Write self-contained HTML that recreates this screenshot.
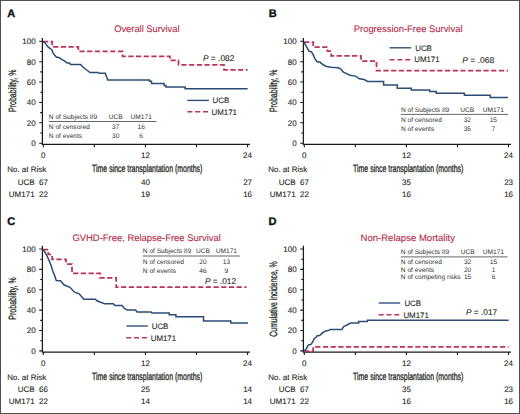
<!DOCTYPE html><html><head><meta charset="utf-8"><style>html,body{margin:0;padding:0;background:#fff;}svg{display:block;}text{stroke-width:0.1px;text-rendering:geometricPrecision;}</style></head><body>
<svg width="520" height="414" viewBox="0 0 520 414" font-family='"Liberation Sans", sans-serif'>
<rect x="0" y="0" width="520" height="414" fill="#fff"/>
<path d="M0,0 H520 V414 H0 Z M1,1 V413 H519 V1 Z" fill="#505050" fill-rule="evenodd"/>
<text x="7.3" y="17" font-size="11" font-weight="bold" fill="#111" stroke="#111" style="stroke-width:0.35px">A</text>
<text x="268.7" y="17.4" font-size="11" font-weight="bold" fill="#111" stroke="#111" style="stroke-width:0.35px">B</text>
<text x="7.2" y="225.4" font-size="11" font-weight="bold" fill="#111" stroke="#111" style="stroke-width:0.35px">C</text>
<text x="268.4" y="225.4" font-size="11" font-weight="bold" fill="#111" stroke="#111" style="stroke-width:0.35px">D</text>
<text x="114.2" y="32.4" font-size="9.5" fill="#b31d45" stroke="#b31d45" style="stroke-width:0.08px" textLength="65.30" lengthAdjust="spacingAndGlyphs">Overall Survival</text>
<text x="353.75" y="32.2" font-size="9.5" fill="#b31d45" stroke="#b31d45" style="stroke-width:0.08px" textLength="108.75" lengthAdjust="spacingAndGlyphs">Progression-Free Survival</text>
<text x="72.4" y="240.6" font-size="9.5" fill="#b31d45" stroke="#b31d45" style="stroke-width:0.08px" textLength="148.40" lengthAdjust="spacingAndGlyphs">GVHD-Free, Relapse-Free Survival</text>
<text x="360.5" y="240.5" font-size="9.5" fill="#b31d45" stroke="#b31d45" style="stroke-width:0.08px" textLength="94.50" lengthAdjust="spacingAndGlyphs">Non-Relapse Mortality</text>
<g transform="translate(0,0)">
<path d="M42.4,38 V144.9 M41.8,144.35 H250" stroke="#1a1a1a" stroke-width="1.25" fill="none"/>
<path d="M39.2,143.20 H42.4 M40.2,133.01 H42.4 M39.2,122.82 H42.4 M40.2,112.63 H42.4 M39.2,102.44 H42.4 M40.2,92.25 H42.4 M39.2,82.06 H42.4 M40.2,71.87 H42.4 M39.2,61.68 H42.4 M40.2,51.49 H42.4 M39.2,41.30 H42.4 M43.30,144.3 V147.3 M94.36,144.3 V147.3 M145.42,144.3 V147.3 M196.48,144.3 V147.3 M247.54,144.3 V147.3" stroke="#1a1a1a" stroke-width="1.1" fill="none"/>
<text x="35.70" y="146.05" font-size="8" text-anchor="end" fill="#231f20" stroke="#231f20" >0</text>
<text x="35.70" y="125.67" font-size="8" text-anchor="end" fill="#231f20" stroke="#231f20" >20</text>
<text x="35.70" y="105.29" font-size="8" text-anchor="end" fill="#231f20" stroke="#231f20" >40</text>
<text x="35.70" y="84.91" font-size="8" text-anchor="end" fill="#231f20" stroke="#231f20" >60</text>
<text x="35.70" y="64.53" font-size="8" text-anchor="end" fill="#231f20" stroke="#231f20" >80</text>
<text x="35.70" y="44.15" font-size="8" text-anchor="end" fill="#231f20" stroke="#231f20" >100</text>
<text x="43.30" y="158.00" font-size="8" text-anchor="middle" fill="#231f20" stroke="#231f20" >0</text>
<text x="145.42" y="158.00" font-size="8" text-anchor="middle" fill="#231f20" stroke="#231f20" >12</text>
<text x="247.54" y="158.00" font-size="8" text-anchor="middle" fill="#231f20" stroke="#231f20" >24</text>
<text x="92" y="172" font-size="10.6" fill="#231f20" stroke="#231f20" style="stroke-width:0.3px" textLength="110.4" lengthAdjust="spacingAndGlyphs">Time since transplantation (months)</text>
<text transform="translate(15.5,112.00) rotate(-90)" x="0" y="0" font-size="10.6" fill="#231f20" stroke="#231f20" style="stroke-width:0.3px" textLength="42.4" lengthAdjust="spacingAndGlyphs">Probability, %</text>
</g>
<g transform="translate(261.0,0)">
<path d="M42.4,38 V144.9 M41.8,144.35 H250" stroke="#1a1a1a" stroke-width="1.25" fill="none"/>
<path d="M39.2,143.20 H42.4 M40.2,133.01 H42.4 M39.2,122.82 H42.4 M40.2,112.63 H42.4 M39.2,102.44 H42.4 M40.2,92.25 H42.4 M39.2,82.06 H42.4 M40.2,71.87 H42.4 M39.2,61.68 H42.4 M40.2,51.49 H42.4 M39.2,41.30 H42.4 M43.30,144.3 V147.3 M94.36,144.3 V147.3 M145.42,144.3 V147.3 M196.48,144.3 V147.3 M247.54,144.3 V147.3" stroke="#1a1a1a" stroke-width="1.1" fill="none"/>
<text x="35.70" y="146.05" font-size="8" text-anchor="end" fill="#231f20" stroke="#231f20" >0</text>
<text x="35.70" y="125.67" font-size="8" text-anchor="end" fill="#231f20" stroke="#231f20" >20</text>
<text x="35.70" y="105.29" font-size="8" text-anchor="end" fill="#231f20" stroke="#231f20" >40</text>
<text x="35.70" y="84.91" font-size="8" text-anchor="end" fill="#231f20" stroke="#231f20" >60</text>
<text x="35.70" y="64.53" font-size="8" text-anchor="end" fill="#231f20" stroke="#231f20" >80</text>
<text x="35.70" y="44.15" font-size="8" text-anchor="end" fill="#231f20" stroke="#231f20" >100</text>
<text x="43.30" y="158.00" font-size="8" text-anchor="middle" fill="#231f20" stroke="#231f20" >0</text>
<text x="145.42" y="158.00" font-size="8" text-anchor="middle" fill="#231f20" stroke="#231f20" >12</text>
<text x="247.54" y="158.00" font-size="8" text-anchor="middle" fill="#231f20" stroke="#231f20" >24</text>
<text x="92" y="172" font-size="10.6" fill="#231f20" stroke="#231f20" style="stroke-width:0.3px" textLength="110.4" lengthAdjust="spacingAndGlyphs">Time since transplantation (months)</text>
<text transform="translate(15.5,112.00) rotate(-90)" x="0" y="0" font-size="10.6" fill="#231f20" stroke="#231f20" style="stroke-width:0.3px" textLength="42.4" lengthAdjust="spacingAndGlyphs">Probability, %</text>
</g>
<g transform="translate(0,207.7)">
<path d="M42.4,38 V144.9 M41.8,144.35 H250" stroke="#1a1a1a" stroke-width="1.25" fill="none"/>
<path d="M39.2,143.20 H42.4 M40.2,133.01 H42.4 M39.2,122.82 H42.4 M40.2,112.63 H42.4 M39.2,102.44 H42.4 M40.2,92.25 H42.4 M39.2,82.06 H42.4 M40.2,71.87 H42.4 M39.2,61.68 H42.4 M40.2,51.49 H42.4 M39.2,41.30 H42.4 M43.30,144.3 V147.3 M94.36,144.3 V147.3 M145.42,144.3 V147.3 M196.48,144.3 V147.3 M247.54,144.3 V147.3" stroke="#1a1a1a" stroke-width="1.1" fill="none"/>
<text x="35.70" y="146.05" font-size="8" text-anchor="end" fill="#231f20" stroke="#231f20" >0</text>
<text x="35.70" y="125.67" font-size="8" text-anchor="end" fill="#231f20" stroke="#231f20" >20</text>
<text x="35.70" y="105.29" font-size="8" text-anchor="end" fill="#231f20" stroke="#231f20" >40</text>
<text x="35.70" y="84.91" font-size="8" text-anchor="end" fill="#231f20" stroke="#231f20" >60</text>
<text x="35.70" y="64.53" font-size="8" text-anchor="end" fill="#231f20" stroke="#231f20" >80</text>
<text x="35.70" y="44.15" font-size="8" text-anchor="end" fill="#231f20" stroke="#231f20" >100</text>
<text x="43.30" y="158.00" font-size="8" text-anchor="middle" fill="#231f20" stroke="#231f20" >0</text>
<text x="145.42" y="158.00" font-size="8" text-anchor="middle" fill="#231f20" stroke="#231f20" >12</text>
<text x="247.54" y="158.00" font-size="8" text-anchor="middle" fill="#231f20" stroke="#231f20" >24</text>
<text x="92" y="172" font-size="10.6" fill="#231f20" stroke="#231f20" style="stroke-width:0.3px" textLength="110.4" lengthAdjust="spacingAndGlyphs">Time since transplantation (months)</text>
<text transform="translate(15.5,112.00) rotate(-90)" x="0" y="0" font-size="10.6" fill="#231f20" stroke="#231f20" style="stroke-width:0.3px" textLength="42.4" lengthAdjust="spacingAndGlyphs">Probability, %</text>
</g>
<g transform="translate(261.0,207.7)">
<path d="M42.4,38 V144.9 M41.8,144.35 H250" stroke="#1a1a1a" stroke-width="1.25" fill="none"/>
<path d="M39.2,143.20 H42.4 M40.2,133.01 H42.4 M39.2,122.82 H42.4 M40.2,112.63 H42.4 M39.2,102.44 H42.4 M40.2,92.25 H42.4 M39.2,82.06 H42.4 M40.2,71.87 H42.4 M39.2,61.68 H42.4 M40.2,51.49 H42.4 M39.2,41.30 H42.4 M43.30,144.3 V147.3 M94.36,144.3 V147.3 M145.42,144.3 V147.3 M196.48,144.3 V147.3 M247.54,144.3 V147.3" stroke="#1a1a1a" stroke-width="1.1" fill="none"/>
<text x="35.70" y="146.05" font-size="8" text-anchor="end" fill="#231f20" stroke="#231f20" >0</text>
<text x="35.70" y="125.67" font-size="8" text-anchor="end" fill="#231f20" stroke="#231f20" >20</text>
<text x="35.70" y="105.29" font-size="8" text-anchor="end" fill="#231f20" stroke="#231f20" >40</text>
<text x="35.70" y="84.91" font-size="8" text-anchor="end" fill="#231f20" stroke="#231f20" >60</text>
<text x="35.70" y="64.53" font-size="8" text-anchor="end" fill="#231f20" stroke="#231f20" >80</text>
<text x="35.70" y="44.15" font-size="8" text-anchor="end" fill="#231f20" stroke="#231f20" >100</text>
<text x="43.30" y="158.00" font-size="8" text-anchor="middle" fill="#231f20" stroke="#231f20" >0</text>
<text x="145.42" y="158.00" font-size="8" text-anchor="middle" fill="#231f20" stroke="#231f20" >12</text>
<text x="247.54" y="158.00" font-size="8" text-anchor="middle" fill="#231f20" stroke="#231f20" >24</text>
<text x="92" y="172" font-size="10.6" fill="#231f20" stroke="#231f20" style="stroke-width:0.3px" textLength="110.4" lengthAdjust="spacingAndGlyphs">Time since transplantation (months)</text>
<text transform="translate(15.5,128.95) rotate(-90)" x="0" y="0" font-size="10.6" fill="#231f20" stroke="#231f20" style="stroke-width:0.3px" textLength="75.3" lengthAdjust="spacingAndGlyphs">Cumulative incidence, %</text>
</g>
<g transform="translate(0,0)">
<text x="7.20" y="171.90" font-size="8" text-anchor="start" fill="#231f20" stroke="#231f20" >No. at Risk</text>
<text x="34.60" y="184.60" font-size="8" text-anchor="end" fill="#231f20" stroke="#231f20" >UCB</text>
<text x="34.60" y="196.80" font-size="8" text-anchor="end" fill="#231f20" stroke="#231f20" >UM171</text>
<text x="39.00" y="184.60" font-size="8" text-anchor="start" fill="#231f20" stroke="#231f20" >67</text>
<text x="145.50" y="184.60" font-size="8" text-anchor="middle" fill="#231f20" stroke="#231f20" >40</text>
<text x="247.60" y="184.60" font-size="8" text-anchor="middle" fill="#231f20" stroke="#231f20" >27</text>
<text x="39.00" y="196.80" font-size="8" text-anchor="start" fill="#231f20" stroke="#231f20" >22</text>
<text x="145.50" y="196.80" font-size="8" text-anchor="middle" fill="#231f20" stroke="#231f20" >19</text>
<text x="247.60" y="196.80" font-size="8" text-anchor="middle" fill="#231f20" stroke="#231f20" >16</text>
</g>
<g transform="translate(261.0,0)">
<text x="7.20" y="171.90" font-size="8" text-anchor="start" fill="#231f20" stroke="#231f20" >No. at Risk</text>
<text x="34.60" y="184.60" font-size="8" text-anchor="end" fill="#231f20" stroke="#231f20" >UCB</text>
<text x="34.60" y="196.80" font-size="8" text-anchor="end" fill="#231f20" stroke="#231f20" >UM171</text>
<text x="39.00" y="184.60" font-size="8" text-anchor="start" fill="#231f20" stroke="#231f20" >67</text>
<text x="145.50" y="184.60" font-size="8" text-anchor="middle" fill="#231f20" stroke="#231f20" >35</text>
<text x="247.60" y="184.60" font-size="8" text-anchor="middle" fill="#231f20" stroke="#231f20" >23</text>
<text x="39.00" y="196.80" font-size="8" text-anchor="start" fill="#231f20" stroke="#231f20" >22</text>
<text x="145.50" y="196.80" font-size="8" text-anchor="middle" fill="#231f20" stroke="#231f20" >16</text>
<text x="247.60" y="196.80" font-size="8" text-anchor="middle" fill="#231f20" stroke="#231f20" >16</text>
</g>
<g transform="translate(0,207.7)">
<text x="7.20" y="171.90" font-size="8" text-anchor="start" fill="#231f20" stroke="#231f20" >No. at Risk</text>
<text x="34.60" y="184.60" font-size="8" text-anchor="end" fill="#231f20" stroke="#231f20" >UCB</text>
<text x="34.60" y="196.80" font-size="8" text-anchor="end" fill="#231f20" stroke="#231f20" >UM171</text>
<text x="39.00" y="184.60" font-size="8" text-anchor="start" fill="#231f20" stroke="#231f20" >66</text>
<text x="145.50" y="184.60" font-size="8" text-anchor="middle" fill="#231f20" stroke="#231f20" >25</text>
<text x="247.60" y="184.60" font-size="8" text-anchor="middle" fill="#231f20" stroke="#231f20" >14</text>
<text x="39.00" y="196.80" font-size="8" text-anchor="start" fill="#231f20" stroke="#231f20" >22</text>
<text x="145.50" y="196.80" font-size="8" text-anchor="middle" fill="#231f20" stroke="#231f20" >14</text>
<text x="247.60" y="196.80" font-size="8" text-anchor="middle" fill="#231f20" stroke="#231f20" >14</text>
</g>
<g transform="translate(261.0,207.7)">
<text x="7.20" y="171.90" font-size="8" text-anchor="start" fill="#231f20" stroke="#231f20" >No. at Risk</text>
<text x="34.60" y="184.60" font-size="8" text-anchor="end" fill="#231f20" stroke="#231f20" >UCB</text>
<text x="34.60" y="196.80" font-size="8" text-anchor="end" fill="#231f20" stroke="#231f20" >UM171</text>
<text x="39.00" y="184.60" font-size="8" text-anchor="start" fill="#231f20" stroke="#231f20" >67</text>
<text x="145.50" y="184.60" font-size="8" text-anchor="middle" fill="#231f20" stroke="#231f20" >35</text>
<text x="247.60" y="184.60" font-size="8" text-anchor="middle" fill="#231f20" stroke="#231f20" >23</text>
<text x="39.00" y="196.80" font-size="8" text-anchor="start" fill="#231f20" stroke="#231f20" >22</text>
<text x="145.50" y="196.80" font-size="8" text-anchor="middle" fill="#231f20" stroke="#231f20" >16</text>
<text x="247.60" y="196.80" font-size="8" text-anchor="middle" fill="#231f20" stroke="#231f20" >16</text>
</g>
<text x="48.80" y="118.60" font-size="6.6" text-anchor="start" fill="#333333" stroke="#333333" style="stroke:none">N of Subjects 89</text>
<text x="115.70" y="118.60" font-size="6.6" text-anchor="middle" fill="#333333" stroke="#333333" style="stroke:none">UCB</text>
<text x="141.20" y="118.60" font-size="6.6" text-anchor="middle" fill="#333333" stroke="#333333" style="stroke:none">UM171</text>
<path d="M48.8,121.5 H156.5" stroke="#555" stroke-width="0.9" fill="none"/>
<text x="48.80" y="129.30" font-size="6.6" text-anchor="start" fill="#333333" stroke="#333333" style="stroke:none">N of censored</text>
<text x="115.70" y="129.30" font-size="6.6" text-anchor="middle" fill="#333333" stroke="#333333" style="stroke:none">37</text>
<text x="141.20" y="129.30" font-size="6.6" text-anchor="middle" fill="#333333" stroke="#333333" style="stroke:none">16</text>
<text x="48.80" y="137.80" font-size="6.6" text-anchor="start" fill="#333333" stroke="#333333" style="stroke:none">N of events</text>
<text x="115.70" y="137.80" font-size="6.6" text-anchor="middle" fill="#333333" stroke="#333333" style="stroke:none">30</text>
<text x="141.20" y="137.80" font-size="6.6" text-anchor="middle" fill="#333333" stroke="#333333" style="stroke:none">6</text>
<path d="M187.4,100.4 h21.5" stroke="#2b4c74" stroke-width="1.35" fill="none"/>
<path d="M187.4,111.8 h21" stroke="#bc3359" stroke-width="1.55" stroke-dasharray="5 2.8" fill="none"/>
<text x="212.50" y="103.10" font-size="7.9" text-anchor="start" fill="#231f20" stroke="#231f20" >UCB</text>
<text x="211.50" y="114.50" font-size="7.9" text-anchor="start" fill="#231f20" stroke="#231f20" >UM171</text>
<text x="202.9" y="60.7" font-size="8.4" fill="#231f20" stroke="#231f20" textLength="31.5" lengthAdjust="spacingAndGlyphs"><tspan font-style="italic">P</tspan> = .082</text>
<path d="M43,41.6 H52.2 V46.9 H78.3 V51.4 H122.5 V56.4 H170 V60.3 H178.5 V64.9 H224 V69.8 H247.6" stroke="#bc3359" stroke-width="1.75" stroke-dasharray="5.2 2.5" fill="none"/>
<path d="M43.0,41.6 L44.9,42.6 L46.2,44.6 L47.8,46.7 L49.9,48.3 L51.9,50.0 L53.1,52.8 L54.8,55.3 L56.4,57.0 L59.3,57.8 L61.8,59.4 L64.7,61.1 L67.1,63.1 L69.2,63.1 L70.8,64.4 L80.5,64.4 L83.0,67.0 L86.0,69.5 L88.0,71.0 L90.0,72.5 L98.0,72.5 L99.0,73.3 L105.3,73.3 L107.7,80.0 H149.5 V81.2 H151.5 V83.4 H164 V85.5 H166 V87 H185.1 V88.8 H247.6" stroke="#2b4c74" stroke-width="1.5" fill="none" stroke-linejoin="miter"/>
<text x="400.90" y="111.50" font-size="6.6" text-anchor="start" fill="#333333" stroke="#333333" style="stroke:none">N of Subjects 89</text>
<text x="467.30" y="111.50" font-size="6.6" text-anchor="middle" fill="#333333" stroke="#333333" style="stroke:none">UCB</text>
<text x="493.30" y="111.50" font-size="6.6" text-anchor="middle" fill="#333333" stroke="#333333" style="stroke:none">UM171</text>
<path d="M400.9,114.4 H508" stroke="#555" stroke-width="0.9" fill="none"/>
<text x="400.90" y="121.90" font-size="6.6" text-anchor="start" fill="#333333" stroke="#333333" style="stroke:none">N of censored</text>
<text x="467.30" y="121.90" font-size="6.6" text-anchor="middle" fill="#333333" stroke="#333333" style="stroke:none">32</text>
<text x="493.30" y="121.90" font-size="6.6" text-anchor="middle" fill="#333333" stroke="#333333" style="stroke:none">15</text>
<text x="400.90" y="130.90" font-size="6.6" text-anchor="start" fill="#333333" stroke="#333333" style="stroke:none">N of events</text>
<text x="467.30" y="130.90" font-size="6.6" text-anchor="middle" fill="#333333" stroke="#333333" style="stroke:none">35</text>
<text x="493.30" y="130.90" font-size="6.6" text-anchor="middle" fill="#333333" stroke="#333333" style="stroke:none">7</text>
<path d="M389.6,47.8 h21.5" stroke="#2b4c74" stroke-width="1.35" fill="none"/>
<path d="M389.6,59.7 h21" stroke="#bc3359" stroke-width="1.55" stroke-dasharray="5 2.8" fill="none"/>
<text x="415.20" y="50.50" font-size="7.9" text-anchor="start" fill="#231f20" stroke="#231f20" >UCB</text>
<text x="414.20" y="62.40" font-size="7.9" text-anchor="start" fill="#231f20" stroke="#231f20" >UM171</text>
<text x="462.2" y="62.7" font-size="8.4" fill="#231f20" stroke="#231f20" textLength="32" lengthAdjust="spacingAndGlyphs"><tspan font-style="italic">P</tspan> = .068</text>
<path d="M304,42.2 H313.2 V47.1 H327.4 V51.2 H331.2 V55.8 H361 V61 H376.5 V70.6 H508" stroke="#bc3359" stroke-width="1.75" stroke-dasharray="5.2 2.5" fill="none"/>
<path d="M303.9,42.5 L305.8,45.4 L307.8,49.2 L308.9,51.2 L311.6,51.9 L313.5,55.4 L314.7,58.5 L317.0,61.5 L320.1,62.3 L323.5,65.0 L326.6,66.5 L331.2,67.3 L338.2,67.7 L340.5,68.8 L343.4,72.1 L350.1,75.2 L355.5,76.1 L359.5,78.8 L364.2,79.5 L367.6,81.5 H383.6 V84.9 H397.3 V88.3 H411.3 V90.1 H429.7 V91.6 H436.2 V93.3 H464.4 V95.2 H490.2 V97.4 H508" stroke="#2b4c74" stroke-width="1.5" fill="none" stroke-linejoin="miter"/>
<text x="142.80" y="253.10" font-size="6.6" text-anchor="start" fill="#333333" stroke="#333333" style="stroke:none">N of Subjects 89</text>
<text x="203.00" y="253.10" font-size="6.6" text-anchor="middle" fill="#333333" stroke="#333333" style="stroke:none">UCB</text>
<text x="226.40" y="253.10" font-size="6.6" text-anchor="middle" fill="#333333" stroke="#333333" style="stroke:none">UM171</text>
<path d="M142.8,256.0 H239.6" stroke="#555" stroke-width="0.9" fill="none"/>
<text x="142.80" y="263.70" font-size="6.6" text-anchor="start" fill="#333333" stroke="#333333" style="stroke:none">N of censored</text>
<text x="203.00" y="263.70" font-size="6.6" text-anchor="middle" fill="#333333" stroke="#333333" style="stroke:none">20</text>
<text x="226.40" y="263.70" font-size="6.6" text-anchor="middle" fill="#333333" stroke="#333333" style="stroke:none">13</text>
<text x="142.80" y="272.50" font-size="6.6" text-anchor="start" fill="#333333" stroke="#333333" style="stroke:none">N of events</text>
<text x="203.00" y="272.50" font-size="6.6" text-anchor="middle" fill="#333333" stroke="#333333" style="stroke:none">46</text>
<text x="226.40" y="272.50" font-size="6.6" text-anchor="middle" fill="#333333" stroke="#333333" style="stroke:none">9</text>
<path d="M126.3,326 h21.5" stroke="#2b4c74" stroke-width="1.35" fill="none"/>
<path d="M126.3,337.8 h21" stroke="#bc3359" stroke-width="1.55" stroke-dasharray="5 2.8" fill="none"/>
<text x="151.70" y="328.70" font-size="7.9" text-anchor="start" fill="#231f20" stroke="#231f20" >UCB</text>
<text x="150.70" y="340.50" font-size="7.9" text-anchor="start" fill="#231f20" stroke="#231f20" >UM171</text>
<text x="205" y="283.6" font-size="8.4" fill="#231f20" stroke="#231f20" textLength="31.1" lengthAdjust="spacingAndGlyphs"><tspan font-style="italic">P</tspan> = .012</text>
<path d="M43,249.6 H48.2 V254.4 H52.1 V259.3 H66 V264.1 H72 V273.4 H100.2 V277.8 H116.2 V287 H246.5" stroke="#bc3359" stroke-width="1.75" stroke-dasharray="5.2 2.5" fill="none"/>
<path d="M43.0,249.6 L44.2,251.0 L46.0,254.0 L47.9,257.7 L49.7,261.9 L51.5,266.7 L52.7,271.0 L54.5,275.2 L56.3,280.6 L60.4,280.8 L64.2,285.0 L70.0,287.3 L74.2,291.9 L79.2,293.8 L83.8,299.2 L95.4,299.2 L97.0,300.8 L100.0,302.0 L104.6,303.8 L113.3,303.8 L115.0,305.5 L122.0,305.5 L124.0,308.0 L127.0,310.0 L135.7,310.0 L137.0,312.0 L151.0,312.0 L152.0,313.0 H169.2 V314.8 H175.9 V316.8 H203.5 V320.9 H230.8 V322.9 H248" stroke="#2b4c74" stroke-width="1.5" fill="none" stroke-linejoin="miter"/>
<text x="400.80" y="254.00" font-size="6.6" text-anchor="start" fill="#333333" stroke="#333333" style="stroke:none">N of Subjects 89</text>
<text x="467.60" y="254.00" font-size="6.6" text-anchor="middle" fill="#333333" stroke="#333333" style="stroke:none">UCB</text>
<text x="493.50" y="254.00" font-size="6.6" text-anchor="middle" fill="#333333" stroke="#333333" style="stroke:none">UM171</text>
<path d="M400.8,256.9 H507.7" stroke="#555" stroke-width="0.9" fill="none"/>
<text x="400.80" y="264.20" font-size="6.6" text-anchor="start" fill="#333333" stroke="#333333" style="stroke:none">N of censored</text>
<text x="467.60" y="264.20" font-size="6.6" text-anchor="middle" fill="#333333" stroke="#333333" style="stroke:none">32</text>
<text x="493.50" y="264.20" font-size="6.6" text-anchor="middle" fill="#333333" stroke="#333333" style="stroke:none">15</text>
<text x="400.80" y="271.60" font-size="6.6" text-anchor="start" fill="#333333" stroke="#333333" style="stroke:none">N of events</text>
<text x="467.60" y="271.60" font-size="6.6" text-anchor="middle" fill="#333333" stroke="#333333" style="stroke:none">20</text>
<text x="493.50" y="271.60" font-size="6.6" text-anchor="middle" fill="#333333" stroke="#333333" style="stroke:none">1</text>
<text x="400.80" y="278.60" font-size="6.6" text-anchor="start" fill="#333333" stroke="#333333" style="stroke:none">N of competing risks</text>
<text x="467.60" y="278.60" font-size="6.6" text-anchor="middle" fill="#333333" stroke="#333333" style="stroke:none">15</text>
<text x="493.50" y="278.60" font-size="6.6" text-anchor="middle" fill="#333333" stroke="#333333" style="stroke:none">6</text>
<path d="M378.7,303 h21.5" stroke="#2b4c74" stroke-width="1.35" fill="none"/>
<path d="M378.7,314.8 h21" stroke="#bc3359" stroke-width="1.55" stroke-dasharray="5 2.8" fill="none"/>
<text x="404.40" y="305.70" font-size="7.9" text-anchor="start" fill="#231f20" stroke="#231f20" >UCB</text>
<text x="403.40" y="317.50" font-size="7.9" text-anchor="start" fill="#231f20" stroke="#231f20" >UM171</text>
<text x="466" y="314.75" font-size="8.4" fill="#231f20" stroke="#231f20" textLength="31.2" lengthAdjust="spacingAndGlyphs"><tspan font-style="italic">P</tspan> = .017</text>
<path d="M304,351 H313.2 V346.8 H508.5" stroke="#bc3359" stroke-width="1.75" stroke-dasharray="5.2 2.5" fill="none"/>
<path d="M304.0,351.2 L306.3,348.9 L307.4,346.7 L308.5,344.9 L310.7,344.6 L312.1,342.8 L313.6,340.2 L314.3,338.4 L316.1,337.3 L316.9,335.9 L319.4,335.5 L321.2,334.1 L322.7,332.6 L325.2,331.2 L327.0,330.8 L328.8,330.4 L330.2,329.6 H341.8 L343.6,326.5 L346.6,325.2 L350.5,323.1 H358.7 V321.6 H367.4 V320.3 H508.7" stroke="#2b4c74" stroke-width="1.5" fill="none" stroke-linejoin="miter"/>
</svg></body></html>
